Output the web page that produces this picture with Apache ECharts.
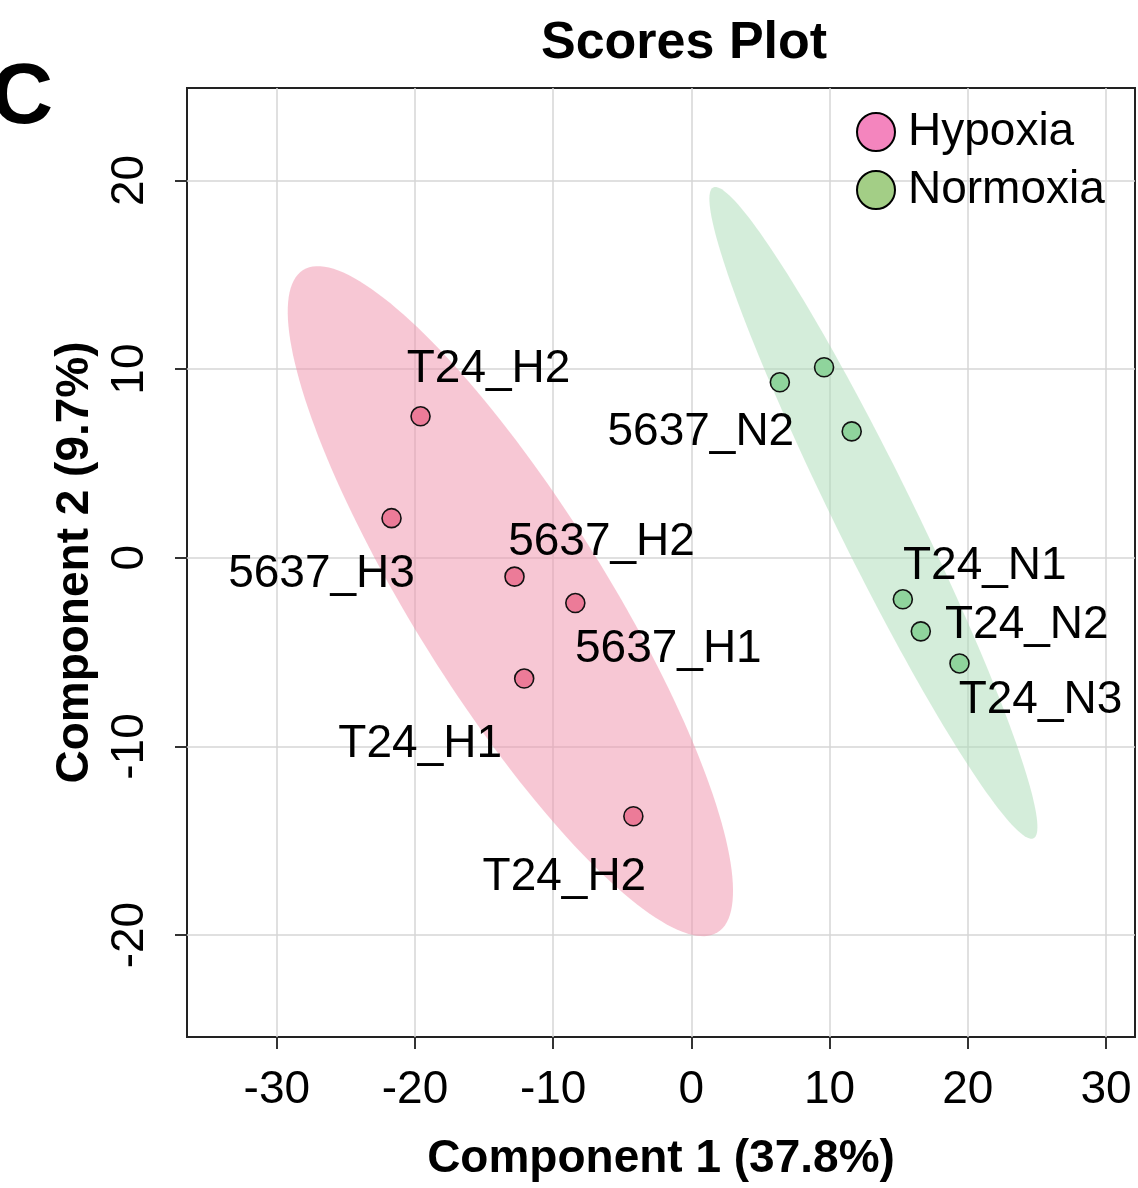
<!DOCTYPE html>
<html><head><meta charset="utf-8">
<script src="https://cdn.jsdelivr.net/npm/echarts@6/dist/echarts.min.js"></script>
<style>html,body{margin:0;padding:0;background:#fff}#c{width:1138px;height:1188px}</style>
</head><body><div id="c"></div>
<script>
// ---- data ----
const groupNames = ['Hypoxia', 'Normoxia'];
const hypoxiaX = [-19.6, -21.7, -12.8, -8.4, -12.1, -4.2];
const hypoxiaY = [7.5, 2.1, -1.0, -2.4, -6.4, -13.7];
const hypoxiaLabels = ['T24_H2', '5637_H3', '5637_H2', '5637_H1', 'T24_H1', 'T24_H2'];
const normoxiaX = [6.4, 9.6, 11.6, 15.3, 16.6, 19.4];
const normoxiaY = [9.3, 10.1, 6.7, -2.2, -3.9, -5.6];
const normoxiaLabels = ['5637_N2', '', '', 'T24_N1', 'T24_N2', 'T24_N3'];
const xTicks = [-30, -20, -10, 0, 10, 20, 30];
const yTicks = [-20, -10, 0, 10, 20];
// confidence ellipses: centre x, centre y, conjugate semi-axis 1 (dx, dy), semi-axis 2 (dx, dy) in data units
const hypoxiaEllipse = [-13.1, -2.3, 15.0, -17.55, -5.88, -2.70];
const normoxiaEllipse = [13.17, 2.38, 11.59, -17.25, -2.56, -0.92];

// ---- styling (kept apart from data) ----
const FONT = "'Liberation Sans', Arial, Helvetica, sans-serif";
const hypoxiaLabelOffsets = [[68, -47], [-70, 56], [87, -34], [93, 46], [-104, 66], [-69, 61]];
const normoxiaLabelOffsets = [[-79, 50], null, null, [82, -33], [106, -6], [81, 37]];
const colors = {
  hypoxiaPoint: '#ec7b98', normoxiaPoint: '#8fd49c',
  hypoxiaLegend: '#f485be', normoxiaLegend: '#a3ce86',
  hypoxiaFill: 'rgba(240,144,170,0.5)', normoxiaFill: 'rgba(170,220,182,0.5)'
};

function buildPoints(xs, ys, names, offsets) {
  return xs.map((x, i) => ({
    name: names[i],
    value: [x, ys[i]],
    label: names[i] ? { show: true, offset: offsets[i] } : { show: false }
  }));
}

function ellipseRenderer(params, api) {
  const e = params.seriesName === 'HypoxiaEllipse' ? hypoxiaEllipse : normoxiaEllipse;
  const fill = params.seriesName === 'HypoxiaEllipse' ? colors.hypoxiaFill : colors.normoxiaFill;
  const pts = [];
  const n = 180;
  for (let i = 0; i < n; i++) {
    const t = i / n * 2 * Math.PI;
    pts.push(api.coord([
      e[0] + e[2] * Math.cos(t) + e[4] * Math.sin(t),
      e[1] + e[3] * Math.cos(t) + e[5] * Math.sin(t)
    ]));
  }
  return { type: 'polygon', shape: { points: pts }, style: { fill: fill } };
}

const chart = echarts.init(document.getElementById('c'), null, { renderer: 'canvas' });
const pointLabel = {
  position: 'inside', formatter: '{b}', fontSize: 46, color: '#000',
  fontFamily: FONT, align: 'center', verticalAlign: 'middle'
};
chart.setOption({
  animation: false,
  backgroundColor: '#fff',
  title: {
    text: 'Scores Plot', left: 536, top: 13,
    textStyle: { fontSize: 52, fontWeight: 'bold', color: '#000', fontFamily: FONT }
  },
  graphic: [{
    type: 'text', left: -9, top: 56,
    style: { text: 'C', fontSize: 86, fontWeight: 'bold', fill: '#000', fontFamily: FONT }
  }],
  legend: {
    orient: 'vertical', left: 851, top: 104, itemWidth: 38, itemHeight: 38, itemGap: 12,
    icon: 'circle',
    textStyle: { fontSize: 46, color: '#000', fontFamily: FONT, padding: [0, 0, 0, 8] },
    data: [
      { name: groupNames[0], itemStyle: { color: colors.hypoxiaLegend, borderColor: '#000', borderWidth: 2 } },
      { name: groupNames[1], itemStyle: { color: colors.normoxiaLegend, borderColor: '#000', borderWidth: 2 } }
    ]
  },
  grid: { left: 187, right: 3, top: 88, bottom: 151, show: true, borderColor: '#222', borderWidth: 2, backgroundColor: 'transparent' },
  xAxis: {
    type: 'value', min: -36.5, max: 32.1,
    name: 'Component 1 (37.8%)', nameLocation: 'middle', nameGap: 99,
    nameTextStyle: { fontSize: 46, fontWeight: 'bold', color: '#000', fontFamily: FONT },
    axisLine: { show: false, onZero: false },
    axisTick: { show: true, inside: false, length: 12, customValues: xTicks, lineStyle: { color: '#333', width: 2 } },
    axisLabel: { customValues: xTicks, margin: 30, fontSize: 46, color: '#000', fontFamily: FONT },
    splitLine: { show: true, lineStyle: { color: '#d6d6d6', width: 1.5 } }
  },
  yAxis: {
    type: 'value', min: -25.4, max: 24.9,
    name: 'Component 2 (9.7%)', nameLocation: 'middle', nameGap: 89,
    nameTextStyle: { fontSize: 46, fontWeight: 'bold', color: '#000', fontFamily: FONT },
    axisLine: { show: false, onZero: false },
    axisTick: { show: true, inside: false, length: 12, customValues: yTicks, lineStyle: { color: '#333', width: 2 } },
    axisLabel: { customValues: yTicks, rotate: 90, margin: 34, fontSize: 46, color: '#000', fontFamily: FONT },
    splitLine: { show: true, lineStyle: { color: '#d6d6d6', width: 1.5 } }
  },
  series: [
    { name: 'HypoxiaEllipse', type: 'custom', renderItem: ellipseRenderer, data: [[hypoxiaEllipse[0], hypoxiaEllipse[1]]], z: 1, silent: true },
    { name: 'NormoxiaEllipse', type: 'custom', renderItem: ellipseRenderer, data: [[normoxiaEllipse[0], normoxiaEllipse[1]]], z: 1, silent: true },
    {
      name: groupNames[0], type: 'scatter', symbol: 'circle', symbolSize: 19, z: 3,
      itemStyle: { color: colors.hypoxiaPoint, borderColor: '#111', borderWidth: 1.6, opacity: 1 },
      label: pointLabel,
      data: buildPoints(hypoxiaX, hypoxiaY, hypoxiaLabels, hypoxiaLabelOffsets)
    },
    {
      name: groupNames[1], type: 'scatter', symbol: 'circle', symbolSize: 19, z: 3,
      itemStyle: { color: colors.normoxiaPoint, borderColor: '#111', borderWidth: 1.6, opacity: 1 },
      label: pointLabel,
      data: buildPoints(normoxiaX, normoxiaY, normoxiaLabels, normoxiaLabelOffsets)
    }
  ]
});
</script>
</body></html>
